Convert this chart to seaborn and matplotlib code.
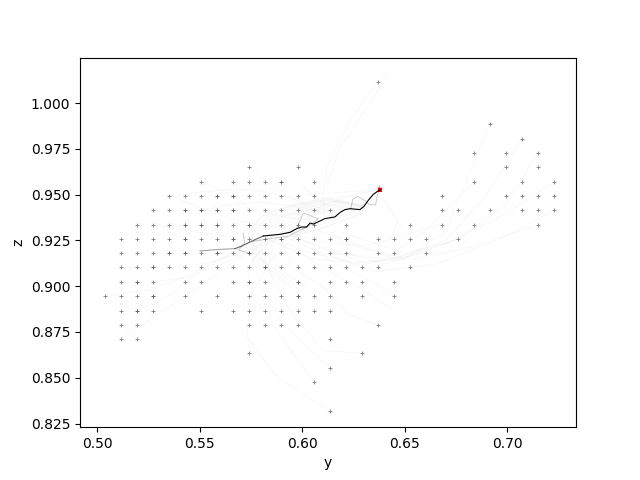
#!/usr/bin/env python
import pandas as pd
import matplotlib
matplotlib.use("Agg")
import matplotlib.pyplot as plt
import seaborn as sns

# start points, one list of y per z row
rows = {
    0.8320: [0.6133],
    0.8477: [0.6055],
    0.8555: [0.6133],
    0.8633: [0.5742, 0.6289],
    0.8711: [0.5117, 0.5195, 0.6133],
    0.8789: [0.5117, 0.5195, 0.5742, 0.5820, 0.5898, 0.5977, 0.6367],
    0.8867: [0.5117, 0.5195, 0.5273, 0.5508, 0.5664, 0.5742, 0.5820, 0.5898, 0.5977, 0.6055, 0.6133],
    0.8945: [0.5039, 0.5117, 0.5195, 0.5273, 0.5430, 0.5586, 0.5742, 0.5820, 0.5898, 0.5977, 0.6055, 0.6133, 0.6289, 0.6445],
    0.9023: [0.5117, 0.5195, 0.5273, 0.5430, 0.5508, 0.5664, 0.5742, 0.5820, 0.5977, 0.6133, 0.6211, 0.6289, 0.6445],
    0.9102: [0.5117, 0.5195, 0.5273, 0.5352, 0.5430, 0.5508, 0.5586, 0.5664, 0.5742, 0.5820, 0.5898, 0.5977, 0.6055, 0.6133,
             0.6211, 0.6289, 0.6367, 0.6523],
    0.9180: [0.5117, 0.5195, 0.5273, 0.5352, 0.5430, 0.5508, 0.5586, 0.5664, 0.5742, 0.5820, 0.5898, 0.5977, 0.6055, 0.6133,
             0.6211, 0.6367, 0.6445, 0.6602],
    0.9258: [0.5117, 0.5195, 0.5273, 0.5352, 0.5430, 0.5508, 0.5586, 0.5664, 0.5742, 0.5820, 0.5898, 0.5977, 0.6055, 0.6133,
             0.6211, 0.6367, 0.6445, 0.6523, 0.6602, 0.6758],
    0.9336: [0.5195, 0.5273, 0.5352, 0.5430, 0.5508, 0.5586, 0.5664, 0.5742, 0.5820, 0.5898, 0.5977, 0.6055, 0.6211, 0.6523,
             0.6680, 0.6836, 0.7148],
    0.9414: [0.5273, 0.5352, 0.5430, 0.5508, 0.5586, 0.5664, 0.5742, 0.5820, 0.5898, 0.5977, 0.6055, 0.6133, 0.6680, 0.6758,
             0.6914, 0.7070, 0.7148, 0.7227],
    0.9492: [0.5352, 0.5430, 0.5508, 0.5586, 0.5664, 0.5742, 0.5820, 0.5898, 0.5977, 0.6055, 0.6680, 0.6992, 0.7070, 0.7148,
             0.7227],
    0.9570: [0.5508, 0.5664, 0.5742, 0.5820, 0.5898, 0.6055, 0.6836, 0.7070, 0.7227],
    0.9648: [0.5742, 0.5977, 0.6992, 0.7148],
    0.9727: [0.6836, 0.6992, 0.7148],
    0.9805: [0.7070],
    0.9883: [0.6914],
    1.0117: [0.6367],
}

# these starts look darker in the picture (several runs on top of each other)
dark_y = [0.5898, 0.5586, 0.5664, 0.5430, 0.5508, 0.5586, 0.5664, 0.5430, 0.5508, 0.5586, 0.5742, 0.5430, 0.5664, 0.5898,
          0.5352, 0.5430, 0.5586, 0.5742, 0.5977, 0.5273, 0.5820, 0.5195, 0.5742, 0.5977, 0.5273, 0.5977, 0.5195, 0.6211]
dark_z = [0.9570, 0.9492, 0.9492, 0.9414, 0.9414, 0.9414, 0.9414, 0.9336, 0.9336, 0.9336, 0.9336, 0.9258, 0.9258, 0.9258,
          0.9180, 0.9180, 0.9180, 0.9180, 0.9180, 0.9102, 0.9102, 0.9023, 0.9023, 0.9023, 0.8945, 0.8945, 0.8867, 0.9258]

# final point and the one start right next to it
goal_y = [0.6379]
goal_z = [0.9527]
near_y = [0.6376]
near_z = [0.9544]

# the run that stands out
best_y = [0.5501, 0.5582, 0.5672, 0.5704, 0.5745, 0.5810, 0.5891, 0.5940, 0.5973, 0.5997, 0.6021, 0.6038, 0.6054, 0.6086,
          0.6111, 0.6159, 0.6184, 0.6208, 0.6233, 0.6281, 0.6301, 0.6322, 0.6346, 0.6379]
best_z = [0.9192, 0.9200, 0.9205, 0.9219, 0.9241, 0.9274, 0.9283, 0.9294, 0.9314, 0.9323, 0.9323, 0.9345, 0.9339, 0.9356,
          0.9369, 0.9378, 0.9402, 0.9418, 0.9423, 0.9418, 0.9436, 0.9469, 0.9501, 0.9527]

# a few grey runs close to it
grey_y = [
    [0.6236, 0.6247, 0.6270, 0.6310, 0.6326, 0.6358, 0.6366, 0.6379],
    [0.5973, 0.6005, 0.6079, 0.6002],
    [0.5711, 0.5719, 0.5690, 0.5740],
    [0.5760, 0.5851, 0.5931, 0.6028],
]
grey_z = [
    [0.9420, 0.9475, 0.9490, 0.9465, 0.9446, 0.9444, 0.9500, 0.9527],
    [0.9316, 0.9400, 0.9367, 0.9307],
    [0.9290, 0.9235, 0.9198, 0.9180],
    [0.9245, 0.9262, 0.9272, 0.9329],
]

# faint runs, read by eye
faint_y = [
    [0.6133, 0.5880, 0.5730, 0.5750, 0.5850, 0.6000],
    [0.6055, 0.5900, 0.5760, 0.5730, 0.5800],
    [0.6133, 0.5900, 0.5800, 0.5760, 0.5850],
    [0.6289, 0.6100, 0.5950, 0.5850, 0.5800],
    [0.6367, 0.6220, 0.6100, 0.5950, 0.5900],
    [0.6367, 0.6420, 0.6300, 0.6180, 0.6120],
    [0.6367, 0.6230, 0.6120, 0.6100, 0.6110],
    [0.6914, 0.6790, 0.6700, 0.6500, 0.6250, 0.6050],
    [0.7070, 0.6900, 0.6700, 0.6450, 0.6150],
    [0.7148, 0.7000, 0.6750, 0.6500, 0.6200],
    [0.7227, 0.7000, 0.6700, 0.6400, 0.6100],
    [0.7227, 0.6950, 0.6650, 0.6350, 0.6050],
    [0.7148, 0.6850, 0.6550, 0.6300, 0.6000],
    [0.6836, 0.6600, 0.6400, 0.6150, 0.5950],
    [0.6758, 0.6550, 0.6300, 0.6050, 0.5850],
    [0.6680, 0.6500, 0.6300, 0.6100, 0.5900],
    [0.6602, 0.6450, 0.6250, 0.6050, 0.5850],
    [0.6445, 0.6350, 0.6200, 0.6050, 0.5900],
    [0.6445, 0.6300, 0.6150, 0.6000, 0.5800],
    [0.5117, 0.5300, 0.5500, 0.5650, 0.5800],
    [0.5039, 0.5250, 0.5450, 0.5600, 0.5750],
    [0.5195, 0.5350, 0.5500, 0.5650, 0.5800],
    [0.5117, 0.5350, 0.5550, 0.5700, 0.5850],
    [0.5273, 0.5450, 0.5600, 0.5750, 0.5900],
    [0.5273, 0.5450, 0.5650, 0.5800, 0.5950],
    [0.5352, 0.5500, 0.5650, 0.5800, 0.5950],
    [0.5508, 0.5650, 0.5750, 0.5900, 0.6050],
    [0.5742, 0.5850, 0.5950, 0.6050, 0.6150],
    [0.5977, 0.6050, 0.6100, 0.6200, 0.6280],
    [0.5508, 0.5620, 0.5800, 0.6000, 0.6150],
    [0.5350, 0.5550, 0.5750, 0.5950, 0.6150],
    [0.5803, 0.5745, 0.5755, 0.5833, 0.5964, 0.6135, 0.6291],
    [0.5830, 0.5760, 0.5765, 0.5840, 0.5970, 0.6140, 0.6295],
    [0.5860, 0.5775, 0.5780, 0.5850, 0.5985, 0.6150, 0.6300],
    [0.5890, 0.5790, 0.5790, 0.5860, 0.5995, 0.6160, 0.6305],
    [0.5920, 0.5805, 0.5800, 0.5870, 0.6005, 0.6165, 0.6310],
    [0.5950, 0.5825, 0.5815, 0.5885, 0.6020, 0.6170, 0.6300],
    [0.5985, 0.5845, 0.5830, 0.5900, 0.6030, 0.6180, 0.6290],
    [0.6020, 0.5870, 0.5850, 0.5915, 0.6045, 0.6190, 0.6280],
    [0.5850, 0.5800, 0.5735, 0.5800, 0.5950, 0.6120, 0.6285],
    [0.5780, 0.5730, 0.5745, 0.5815, 0.5955, 0.6125, 0.6290],
    [0.5900, 0.6050, 0.6200, 0.6300, 0.6379],
    [0.5950, 0.6100, 0.6250, 0.6320, 0.6379],
    [0.6000, 0.6150, 0.6280, 0.6350, 0.6379],
    [0.5950, 0.6080, 0.6200, 0.6300],
    [0.5950, 0.6080, 0.6200, 0.6300],
    [0.5950, 0.6080, 0.6200, 0.6300],
    [0.5900, 0.6050, 0.6180, 0.6290],
    [0.5900, 0.6050, 0.6180, 0.6290],
    [0.6420, 0.6470, 0.6430, 0.6390, 0.6379],
    [0.6500, 0.6420, 0.6390, 0.6379],
]
faint_z = [
    [0.8320, 0.8500, 0.8720, 0.8950, 0.9150, 0.9300],
    [0.8477, 0.8720, 0.8950, 0.9100, 0.9200],
    [0.8555, 0.8800, 0.9000, 0.9150, 0.9250],
    [0.8633, 0.8650, 0.8850, 0.9050, 0.9200],
    [0.8789, 0.8850, 0.9000, 0.9100, 0.9250],
    [1.0117, 1.0157, 0.9950, 0.9750, 0.9550],
    [1.0117, 0.9900, 0.9650, 0.9500, 0.9370],
    [0.9883, 0.9550, 0.9300, 0.9150, 0.9220, 0.9320],
    [0.9805, 0.9500, 0.9250, 0.9150, 0.9280],
    [0.9727, 0.9450, 0.9250, 0.9180, 0.9290],
    [0.9570, 0.9400, 0.9230, 0.9120, 0.9220],
    [0.9414, 0.9250, 0.9120, 0.9080, 0.9200],
    [0.9336, 0.9220, 0.9150, 0.9130, 0.9250],
    [0.9570, 0.9300, 0.9150, 0.9180, 0.9280],
    [0.9258, 0.9180, 0.9120, 0.9150, 0.9250],
    [0.9336, 0.9280, 0.9220, 0.9240, 0.9300],
    [0.9180, 0.9150, 0.9130, 0.9180, 0.9260],
    [0.8945, 0.9020, 0.9100, 0.9200, 0.9280],
    [0.8867, 0.8980, 0.9070, 0.9170, 0.9270],
    [0.8711, 0.8850, 0.9000, 0.9120, 0.9230],
    [0.8945, 0.8980, 0.9060, 0.9150, 0.9240],
    [0.8867, 0.8950, 0.9080, 0.9170, 0.9250],
    [0.9102, 0.9100, 0.9130, 0.9180, 0.9260],
    [0.9023, 0.9050, 0.9120, 0.9190, 0.9270],
    [0.9336, 0.9300, 0.9270, 0.9270, 0.9290],
    [0.9492, 0.9430, 0.9370, 0.9330, 0.9320],
    [0.9570, 0.9500, 0.9420, 0.9380, 0.9360],
    [0.9648, 0.9550, 0.9480, 0.9420, 0.9390],
    [0.9570, 0.9500, 0.9450, 0.9430, 0.9420],
    [0.9414, 0.9440, 0.9460, 0.9430, 0.9380],
    [0.9492, 0.9520, 0.9530, 0.9480, 0.9400],
    [0.9087, 0.9196, 0.9294, 0.9387, 0.9436, 0.9469, 0.9431],
    [0.9060, 0.9180, 0.9290, 0.9380, 0.9430, 0.9475, 0.9440],
    [0.9040, 0.9170, 0.9280, 0.9370, 0.9425, 0.9465, 0.9445],
    [0.9020, 0.9160, 0.9270, 0.9360, 0.9420, 0.9460, 0.9440],
    [0.9000, 0.9150, 0.9265, 0.9350, 0.9410, 0.9450, 0.9435],
    [0.8990, 0.9130, 0.9250, 0.9345, 0.9400, 0.9445, 0.9430],
    [0.8980, 0.9120, 0.9240, 0.9330, 0.9395, 0.9435, 0.9425],
    [0.8990, 0.9110, 0.9230, 0.9320, 0.9385, 0.9425, 0.9420],
    [0.9070, 0.9150, 0.9285, 0.9385, 0.9440, 0.9480, 0.9435],
    [0.9100, 0.9210, 0.9300, 0.9395, 0.9445, 0.9485, 0.9440],
    [0.9380, 0.9420, 0.9480, 0.9510, 0.9527],
    [0.9440, 0.9470, 0.9500, 0.9515, 0.9527],
    [0.9500, 0.9510, 0.9520, 0.9525, 0.9527],
    [0.9270, 0.9310, 0.9360, 0.9400],
    [0.9280, 0.9330, 0.9380, 0.9410],
    [0.9300, 0.9340, 0.9390, 0.9425],
    [0.9260, 0.9300, 0.9350, 0.9395],
    [0.9290, 0.9335, 0.9385, 0.9430],
    [0.9240, 0.9360, 0.9430, 0.9490, 0.9527],
    [0.9300, 0.9420, 0.9480, 0.9527],
]

starts = pd.DataFrame([(y, z) for z, ys in rows.items() for y in ys], columns=["y", "z"])

fig, ax = plt.subplots(figsize=(6.4, 4.8), dpi=100)

for ys, zs in zip(faint_y, faint_z):
    sns.lineplot(x=ys, y=zs, sort=False, estimator=None, color="black", alpha=0.025, linewidth=0.8, ax=ax)
for ys, zs in zip(grey_y, grey_z):
    sns.lineplot(x=ys, y=zs, sort=False, estimator=None, color="black", alpha=0.2, linewidth=0.7, ax=ax)

# darkens towards the goal, so the left part goes on lighter
sns.lineplot(x=best_y[:3], y=best_z[:3], sort=False, estimator=None, color="black", alpha=0.35, linewidth=0.8, ax=ax)
sns.lineplot(x=best_y[2:6], y=best_z[2:6], sort=False, estimator=None, color="black", alpha=0.6, linewidth=0.8, ax=ax)
sns.lineplot(x=best_y[5:], y=best_z[5:], sort=False, estimator=None, color="black", linewidth=0.8, ax=ax)

sns.scatterplot(data=starts, x="y", y="z", marker="+", s=5, color="black", alpha=0.5, linewidth=0.6, ax=ax)
sns.scatterplot(x=dark_y, y=dark_z, marker="+", s=5, color="black", alpha=0.3, linewidth=0.6, ax=ax)
sns.scatterplot(x=near_y, y=near_z, marker="+", s=5, color="red", alpha=0.5, linewidth=0.6, ax=ax)
sns.scatterplot(x=goal_y, y=goal_z, marker="s", s=11, color="red", linewidth=0, ax=ax)

ax.set_xlim(0.4916, 0.7335)
ax.set_ylim(0.8230, 1.0248)
ax.set_xlabel("y")
ax.set_ylabel("z")

plt.savefig("out.png")
